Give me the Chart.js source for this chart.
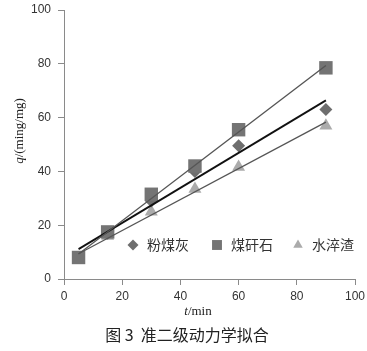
<!DOCTYPE html>
<html>
<head>
<meta charset="utf-8">
<script src="https://cdn.jsdelivr.net/npm/chart.js@4/dist/chart.umd.min.js"></script>
<style>
  html, body { margin: 0; padding: 0; background: #fff; }
  #wrap { width: 367px; height: 351px; position: relative; }
</style>
</head>
<body>
<div id="wrap"><canvas id="kinetics"></canvas></div>
<script>
// sampling times (min)
const times = [5, 15, 30, 45, 60, 90];

// t/q values per material
const flyAsh = [8, 17, 29, 40, 49.5, 63];        // 粉煤灰
const coalGangue = [8, 17.5, 31.5, 42, 55.5, 78.5]; // 煤矸石
const slag = [7, 16, 25, 33.5, 41.6, 57];         // 水淬渣

// fitted lines, read at both ends
const fitTimes = [5, 90];
const flyAshFit = [11.1, 66.4];
const coalGangueFit = [9.3, 79.4];
const slagFit = [9.4, 58.3];

const seriesNames = ['粉煤灰', '煤矸石', '水淬渣'];
const axisTicks = [0, 20, 40, 60, 80, 100];

const toPoints = (xs, ys) => xs.map((x, i) => ({ x: x, y: ys[i] }));

const markers = [
    { style: 'rectRot', radius: 6.5, color: '#6e6e6e' },
    { style: 'rect', radius: 9.5, color: '#747474' },
    { style: 'triangle', radius: 7.5, color: '#ababab' },
];

// legend sits inside the plot, plus axis titles and caption
const extrasPlugin = {
    id: 'extras',
    afterDraw(chart) {
        const ctx = chart.ctx;
        ctx.save();

        // legend
        const legendY = 245;
        const legendX = [133, 217, 298];
        ctx.font = '14px "Noto Sans CJK SC"';
        ctx.textBaseline = 'middle';
        ctx.textAlign = 'left';
        seriesNames.forEach((name, i) => {
            const m = markers[i];
            ctx.fillStyle = m.color;
            ctx.strokeStyle = m.color;
            Chart.helpers.drawPoint(ctx, {
                pointStyle: m.style,
                radius: m.style === 'rect' ? 7 : 5.5,
                borderWidth: 0,
            }, legendX[i], legendY);
            ctx.fillStyle = '#333';
            ctx.fillText(name, legendX[i] + 14, legendY);
        });

        // y title
        ctx.save();
        ctx.translate(20, 131);
        ctx.rotate(-Math.PI / 2);
        ctx.fillStyle = '#222';
        ctx.textBaseline = 'middle';
        ctx.font = 'italic 13px "Liberation Serif"';
        const qW = ctx.measureText('q').width;
        ctx.font = '13px "Liberation Serif"';
        const restW = ctx.measureText('/(ming/mg)').width;
        const startX = -(qW + restW) / 2;
        ctx.textAlign = 'left';
        ctx.font = 'italic 13px "Liberation Serif"';
        ctx.fillText('q', startX, 0);
        ctx.font = '13px "Liberation Serif"';
        ctx.fillText('/(ming/mg)', startX + qW, 0);
        ctx.restore();

        // x title
        ctx.fillStyle = '#222';
        ctx.textBaseline = 'middle';
        ctx.font = 'italic 13px "Liberation Serif"';
        const tW = ctx.measureText('t').width;
        ctx.font = '13px "Liberation Serif"';
        const minW = ctx.measureText('/min').width;
        const tx = 198 - (tW + minW) / 2;
        ctx.font = 'italic 13px "Liberation Serif"';
        ctx.fillText('t', tx, 312);
        ctx.font = '13px "Liberation Serif"';
        ctx.fillText('/min', tx + tW, 312);

        // caption
        ctx.font = '16px "Noto Sans CJK SC"';
        ctx.textAlign = 'center';
        ctx.fillStyle = '#222';
        ctx.fillText('图 3  准二级动力学拟合', 187, 335);

        ctx.restore();
    }
};

const scatterSet = (label, data, i) => ({
    type: 'scatter',
    label: label,
    data: toPoints(times, data),
    pointStyle: markers[i].style,
    pointRadius: markers[i].radius,
    backgroundColor: markers[i].color,
    borderColor: markers[i].color,
    borderWidth: 0,
    order: 2,
});

const fitSet = (data, color, width) => ({
    type: 'line',
    data: toPoints(fitTimes, data),
    borderColor: color,
    borderWidth: width,
    pointRadius: 0,
    fill: false,
    order: 1,
});

const axisCommon = {
    type: 'linear',
    min: 0,
    max: 100,
    afterBuildTicks: (scale) => { scale.ticks = axisTicks.map(v => ({ value: v })); },
    border: { color: '#8a8a8a', width: 1 },
    grid: { drawOnChartArea: false, color: '#8a8a8a', tickLength: 6 },
    ticks: {
        color: '#333',
        font: { family: '"Liberation Sans"', size: 12 },
    },
};

new Chart(document.getElementById('kinetics'), {
    data: {
        datasets: [
            fitSet(coalGangueFit, '#555', 1.3),
            fitSet(flyAshFit, '#111', 1.8),
            fitSet(slagFit, '#555', 1.3),
            scatterSet(seriesNames[1], coalGangue, 1),
            scatterSet(seriesNames[0], flyAsh, 0),
            scatterSet(seriesNames[2], slag, 2),
        ]
    },
    options: {
        responsive: true,
        maintainAspectRatio: false,
        animation: false,
        layout: { padding: { left: 0, right: 12, top: 10, bottom: 0 } },
        plugins: {
            legend: { display: false },
            tooltip: { enabled: false },
        },
        scales: {
            x: Object.assign({}, axisCommon, {
                position: 'bottom',
                ticks: Object.assign({}, axisCommon.ticks, { padding: 4 }),
                afterFit: (scale) => {
                    scale.height = 72;
                    scale.paddingLeft = 0;
                    scale.paddingRight = 0;
                },
            }),
            y: Object.assign({}, axisCommon, {
                position: 'left',
                ticks: Object.assign({}, axisCommon.ticks, { padding: 7 }),
                afterFit: (scale) => {
                    scale.width = 64;
                    scale.paddingTop = 0;
                    scale.paddingBottom = 0;
                },
            }),
        }
    },
    plugins: [extrasPlugin],
});
</script>
</body>
</html>
